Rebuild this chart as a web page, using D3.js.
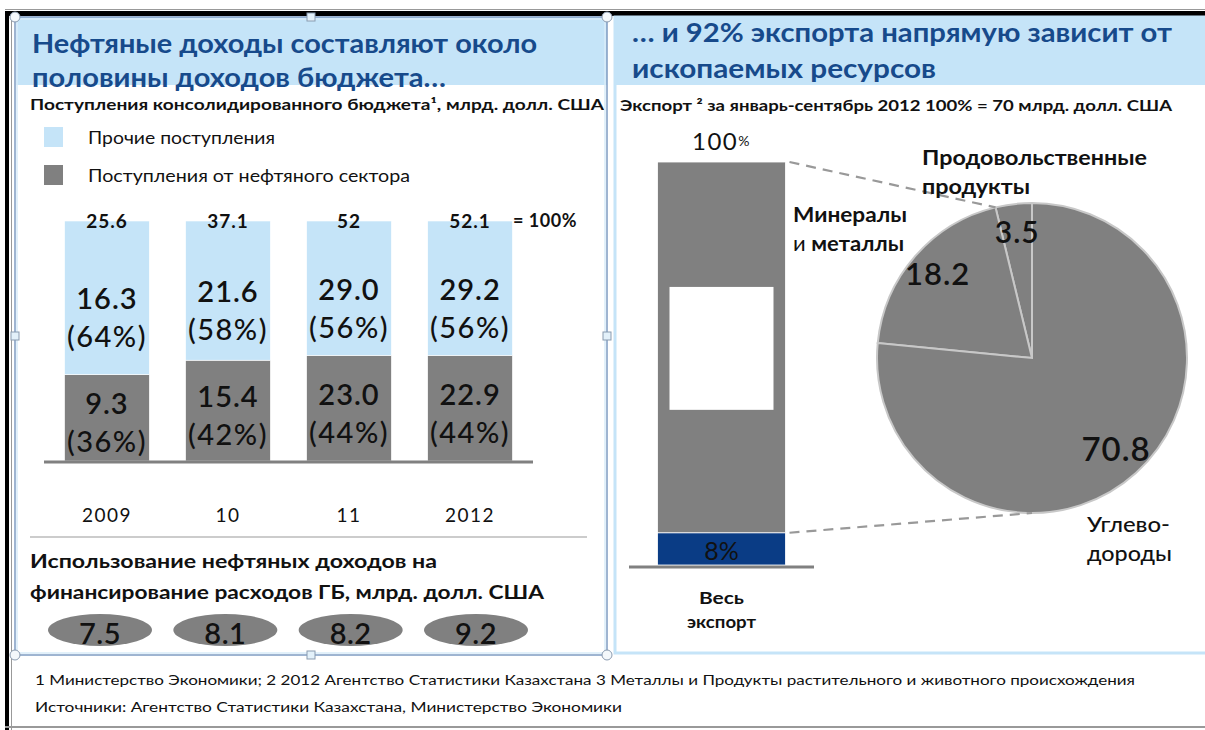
<!DOCTYPE html>
<html>
<head>
<meta charset="utf-8">
<script src="https://cdn.jsdelivr.net/npm/d3@7"></script>
<style>
  body { margin: 0; background: #fff; }
  svg { display: block; font-family: Lato, "Open Sans", sans-serif; }
</style>
</head>
<body>
<svg width="1205" height="730"></svg>
<script>
// budget revenues, bn USD
const years = ["2009", "10", "11", "2012"];
const oilRevenue = [9.3, 15.4, 23.0, 22.9];
const otherRevenue = [16.3, 21.6, 29.0, 29.2];
const totalRevenue = [25.6, 37.1, 52, 52.1];
const oilShare = [36, 42, 44, 44];
const otherShare = [64, 58, 56, 56];
const oilSpending = [7.5, 8.1, 8.2, 9.2];
const legendLabels = ["Прочие поступления", "Поступления от нефтяного сектора"];

// export jan-sep 2012
const exportParts = ["Прочее", "Ископаемые ресурсы"];
const exportShare = [8, 92];
const pieLabels = [["Продовольственные", "продукты"], ["Минералы", "и металлы"], ["Углево-", "дороды"]];
const pieValues = [3.5, 18.2, 70.8];

const footnotes = [
  "1 Министерство Экономики; 2 2012 Агентство Статистики Казахстана 3 Металлы и Продукты растительного и животного происхождения",
  "Источники: Агентство Статистики Казахстана, Министерство Экономики"
];

const lightBlue = "#c5e4f8", grey = "#808080", navy = "#0a3c85", titleBlue = "#174a8b";

var svg = d3.select("svg");

// ---- frame ----
svg.append("rect").attr("x", 5).attr("y", 9).attr("width", 1200).attr("height", 1).attr("fill", "#999");
svg.append("rect").attr("x", 5).attr("y", 11).attr("width", 1200).attr("height", 5).attr("fill", "#000");
svg.append("rect").attr("x", 5).attr("y", 11).attr("width", 4).attr("height", 719).attr("fill", "#000");
svg.append("rect").attr("x", 11).attr("y", 16).attr("width", 1).attr("height", 714).attr("fill", "#999");
svg.append("rect").attr("x", 5).attr("y", 726).attr("width", 1200).attr("height", 2).attr("fill", "#999");

// title backgrounds
svg.append("rect").attr("x", 16).attr("y", 17).attr("width", 591).attr("height", 68).attr("fill", lightBlue);
svg.append("rect").attr("x", 616).attr("y", 17).attr("width", 589).attr("height", 68).attr("fill", lightBlue);

// right panel border (light double)
svg.append("rect").attr("x", 615).attr("y", 17).attr("width", 600).attr("height", 636)
  .attr("fill", "none").attr("stroke", lightBlue).attr("stroke-width", 3);

function addText(x, y, str, size, weight, opts) {
  opts = opts || {};
  var t = svg.append("text")
    .attr("x", x).attr("y", y)
    .attr("dominant-baseline", "central")
    .attr("font-size", size)
    .attr("font-weight", weight)
    .attr("fill", opts.fill || "#111")
    .attr("text-anchor", opts.anchor || "start")
    .text(str);
  if (opts.len) t.attr("textLength", opts.len).attr("lengthAdjust", "spacingAndGlyphs");
  if (opts.ls) t.attr("letter-spacing", opts.ls);
  return t;
}

// ---- left panel ----
addText(32, 42, "Нефтяные доходы составляют около", 27, 700, { fill: titleBlue, len: 505 });
addText(32, 76, "половины доходов  бюджета…", 27, 700, { fill: titleBlue, len: 414 });
addText(30, 104, "Поступления консолидированного бюджета¹, млрд. долл. США", 15, 700, { len: 574 });

var legendY = d3.scalePoint().domain(legendLabels).range([137, 175]);
var legendColor = d3.scaleOrdinal().domain(legendLabels).range([lightBlue, grey]);
var legendLen = [187, 322];
legendLabels.forEach(function(d, i) {
  svg.append("rect").attr("x", 44).attr("y", legendY(d) - 10).attr("width", 19).attr("height", 20)
    .attr("fill", legendColor(d));
  addText(88, legendY(d), d, 17, 400, { len: legendLen[i] });
});

var x = d3.scaleBand().domain(years).range([44, 533]).paddingInner(0.3).paddingOuter(0.17);
var y = d3.scaleLinear().domain([0, 100]).range([461, 221]);

var rows = years.map(function(yr, i) {
  return { year: yr, oil: oilShare[i], other: otherShare[i], i: i };
});
var stack = d3.stack().keys(["oil", "other"])(rows);
var barColor = { oil: grey, other: lightBlue };

var layer = svg.selectAll("g.layer").data(stack).enter().append("g")
  .attr("class", "layer").attr("fill", function(d) { return barColor[d.key]; });
layer.selectAll("rect").data(function(d) { return d; }).enter().append("rect")
  .attr("x", function(d) { return x(d.data.year); })
  .attr("y", function(d) { return y(d[1]); })
  .attr("width", x.bandwidth())
  .attr("height", function(d) { return y(d[0]) - y(d[1]); })
  .attr("stroke", "#fff").attr("stroke-width", 0.6);

// segment labels
stack.forEach(function(s) {
  s.forEach(function(d) {
    var i = d.data.i;
    var cx = x(d.data.year) + x.bandwidth() / 2;
    var mid = (y(d[0]) + y(d[1])) / 2;
    var val = s.key === "oil" ? oilRevenue[i] : otherRevenue[i];
    var pct = s.key === "oil" ? oilShare[i] : otherShare[i];
    var y1 = s.key === "oil" ? mid - 15 : mid;
    addText(cx, y1, val.toFixed(1), 29, 600, { anchor: "middle", ls: 1 });
    addText(cx, y1 + 38, "(" + pct + "%)", 29, 500, { anchor: "middle", ls: 1.5 });
  });
});

// totals
years.forEach(function(yr, i) {
  addText(x(yr) + x.bandwidth() / 2, y(100) - 1, String(totalRevenue[i]), 19, 700, { anchor: "middle", ls: 1 });
  addText(x(yr) + x.bandwidth() / 2, 514, yr, 19, 400, { anchor: "middle", ls: 1.5 });
});
addText(513, y(100) - 1, "= 100%", 18, 700, { ls: 0.5 });

svg.append("line").attr("x1", 44).attr("x2", 533).attr("y1", y(0) + 1).attr("y2", y(0) + 1)
  .attr("stroke", grey).attr("stroke-width", 3);

svg.append("line").attr("x1", 30).attr("x2", 587).attr("y1", 537).attr("y2", 537)
  .attr("stroke", "#999").attr("stroke-width", 1);

addText(30, 560, "Использование нефтяных доходов на", 19.5, 700, { len: 407 });
addText(30, 591, "финансирование расходов ГБ, млрд. долл. США", 19.5, 700, { len: 514 });

var xe = d3.scalePoint().domain(years).range([100, 476]);
years.forEach(function(yr, i) {
  svg.append("ellipse").attr("cx", xe(yr)).attr("cy", 630).attr("rx", 52).attr("ry", 16)
    .attr("fill", grey);
  addText(xe(yr), 632, oilSpending[i].toFixed(1), 29, 600, { anchor: "middle", ls: 0.5 });
});

// left panel border and handles
svg.append("rect").attr("x", 15).attr("y", 17).attr("width", 592).attr("height", 638)
  .attr("fill", "none").attr("stroke", "#7f9cc2").attr("stroke-width", 1.5);
svg.append("rect").attr("x", 17).attr("y", 19).attr("width", 588).attr("height", 634)
  .attr("fill", "none").attr("stroke", "#d9ecf9").attr("stroke-width", 1.5);
[[15, 17], [607, 17], [15, 655], [607, 655]].forEach(function(p) {
  svg.append("circle").attr("cx", p[0]).attr("cy", p[1]).attr("r", 5)
    .attr("fill", "#f4f8fb").attr("stroke", "#8a9bb0").attr("stroke-width", 1);
});
[[311, 17], [607, 336], [15, 336], [311, 655]].forEach(function(p) {
  svg.append("rect").attr("x", p[0] - 4).attr("y", p[1] - 4).attr("width", 8).attr("height", 8)
    .attr("fill", "#e3f1fa").attr("stroke", "#8a9bb0").attr("stroke-width", 1);
});

// ---- right panel ----
addText(632, 31, "… и 92% экспорта напрямую зависит от", 27, 700, { fill: titleBlue, len: 540 });
addText(632, 67, "ископаемых ресурсов", 27, 700, { fill: titleBlue, len: 304 });
addText(620, 105, "Экспорт ² за январь-сентябрь 2012 100% = 70 млрд. долл. США", 14.5, 700, { len: 552 });

var xb = d3.scaleBand().domain(["Весь экспорт"]).range([629, 814]).paddingOuter(0.2227);
var yb = d3.scaleLinear().domain([0, 100]).range([565, 162]);
var exportStack = d3.stack().keys(exportParts)([{ "Прочее": exportShare[0], "Ископаемые ресурсы": exportShare[1] }]);
var exportColor = d3.scaleOrdinal().domain(exportParts).range([navy, grey]);

svg.selectAll("rect.exp").data(exportStack).enter().append("rect")
  .attr("class", "exp")
  .attr("x", xb("Весь экспорт"))
  .attr("width", xb.bandwidth())
  .attr("y", function(d) { return yb(d[0][1]); })
  .attr("height", function(d) { return yb(d[0][0]) - yb(d[0][1]); })
  .attr("fill", function(d) { return exportColor(d.key); })
  .attr("stroke", "#fff").attr("stroke-width", 0.8);

// blank box over the grey segment
svg.append("rect").attr("x", xb("Весь экспорт") + 12).attr("width", xb.bandwidth() - 24)
  .attr("y", yb(69)).attr("height", yb(38.5) - yb(69)).attr("fill", "#fff");

var barMid = xb("Весь экспорт") + xb.bandwidth() / 2;
addText(barMid, yb(exportShare[0] / 2) + 1, exportShare[0] + "%", 25, 400, { anchor: "middle" });
var hundred = addText(barMid, 140, "100", 24, 400, { anchor: "middle", ls: 1.5 });
hundred.append("tspan").attr("font-size", 14).text("%");

svg.append("line").attr("x1", 629).attr("x2", 814).attr("y1", yb(0) + 2).attr("y2", yb(0) + 2)
  .attr("stroke", grey).attr("stroke-width", 3);
addText(barMid, 597, "Весь", 17.5, 700, { anchor: "middle", len: 45 });
addText(barMid, 621, "экспорт", 17.5, 700, { anchor: "middle", len: 69 });

// pie
var pcx = 1032, pcy = 358, pr = 155;
var pie = d3.pie().sort(null).startAngle(0).endAngle(-2 * Math.PI);
var arcs = pie(pieValues);
var arc = d3.arc().innerRadius(0).outerRadius(pr);
var labelArc = d3.arc().innerRadius(125).outerRadius(125);
var pg = svg.append("g").attr("transform", "translate(" + pcx + "," + pcy + ")");

// connector lines
var topEnd = [pcx + pr * Math.sin(arcs[0].endAngle), pcy - pr * Math.cos(arcs[0].endAngle)];
var botEnd = [pcx + pr * Math.sin(Math.PI), pcy - pr * Math.cos(Math.PI)];
var barRight = xb("Весь экспорт") + xb.bandwidth();
[[[barRight + 4, yb(100)], topEnd], [[barRight + 4, yb(exportShare[0])], botEnd]].forEach(function(l) {
  svg.append("line").attr("x1", l[0][0]).attr("y1", l[0][1]).attr("x2", l[1][0]).attr("y2", l[1][1])
    .attr("stroke", "#999").attr("stroke-width", 2.2).attr("stroke-dasharray", "10,7");
});

pg.selectAll("path").data(arcs).enter().append("path")
  .attr("d", arc).attr("fill", grey).attr("stroke", "#c8c8c8").attr("stroke-width", 2);
var pieFont = [30, 31, 33];
arcs.forEach(function(a, i) {
  var c = labelArc.centroid(a);
  pg.append("text").attr("x", c[0]).attr("y", c[1] - 3)
    .attr("text-anchor", "middle").attr("dominant-baseline", "central")
    .attr("font-size", pieFont[i]).attr("font-weight", 600).attr("fill", "#111")
    .attr("letter-spacing", 1)
    .text(pieValues[i].toFixed(1));
});

// pie category labels
addText(922, 156, pieLabels[0][0], 21, 700, { len: 225 });
addText(922, 185, pieLabels[0][1], 21, 700, { len: 108 });
addText(793, 213, pieLabels[1][0], 21, 700, { len: 114 });
var mm = addText(793, 242, "и ", 21, 400, { len: 111 });
mm.append("tspan").attr("font-weight", 700).text(pieLabels[1][1].slice(2));
addText(1087, 523, pieLabels[2][0], 21, 500, { len: 83 });
addText(1087, 552, pieLabels[2][1], 21, 500, { len: 85 });

// footnotes
addText(35, 680, footnotes[0], 13.5, 400, { len: 1100 });
addText(35, 707, footnotes[1], 13.5, 400, { len: 587 });
</script>
</body>
</html>
